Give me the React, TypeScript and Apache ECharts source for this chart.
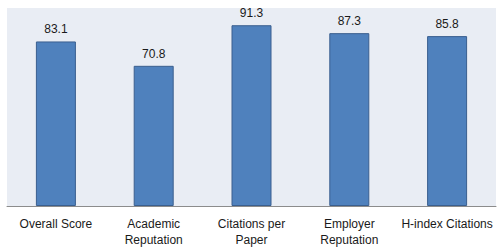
import React, { useEffect, useRef } from "react";
import * as echarts from "echarts";

const categories = ["Overall Score", "Academic Reputation", "Citations per Paper", "Employer Reputation", "H-index Citations"];
const tickLabels = ["Overall Score", "Academic\nReputation", "Citations per\nPaper", "Employer\nReputation", "H-index Citations"];
const scores = [83.1, 70.8, 91.3, 87.3, 85.8];

export default function App() {
  const ref = useRef<HTMLDivElement>(null);
  useEffect(() => {
    document.body.style.margin = "0";
    const chart = echarts.init(ref.current!, null, { renderer: "svg" });
    chart.setOption({
      animation: false,
      backgroundColor: "#ffffff",
      grid: { left: 7, right: 8, top: 8, bottom: 45, show: true, backgroundColor: "#e9edf4", borderWidth: 0 },
      xAxis: {
        type: "category",
        data: categories,
        axisLine: { show: true, lineStyle: { color: "#8c8c8c", width: 1 } },
        axisTick: { show: false },
        axisLabel: {
          interval: 0,
          margin: 10,
          color: "#1a1a1a",
          fontFamily: "Liberation Sans",
          fontSize: 12,
          lineHeight: 16,
          formatter: (_v: string, i: number) => tickLabels[i],
        },
      },
      yAxis: {
        type: "value",
        min: 0,
        max: 100,
        show: false,
        splitLine: { show: false },
      },
      series: [
        {
          type: "bar",
          data: scores,
          barWidth: 40,
          itemStyle: { color: "#4f81bd", borderColor: "#3a5f8f", borderWidth: 1 },
          label: {
            show: true,
            position: "top",
            distance: 6,
            color: "#1a1a1a",
            fontFamily: "Liberation Sans",
            fontSize: 12,
            formatter: (p: any) => p.value.toFixed(1),
          },
        },
      ],
    });
    return () => chart.dispose();
  }, []);
  return <div ref={ref} style={{ width: 504, height: 251 }} />;
}
